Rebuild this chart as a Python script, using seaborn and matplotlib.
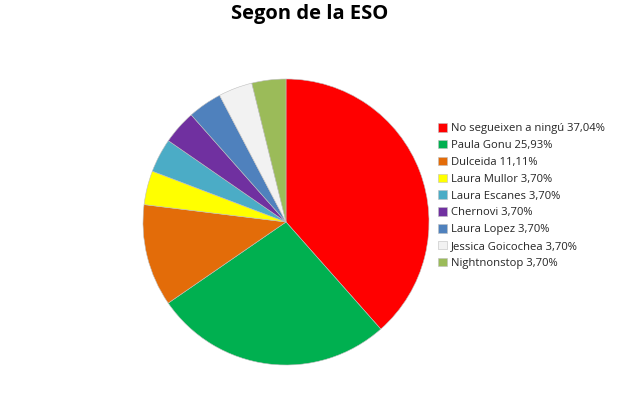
import matplotlib
matplotlib.use("Agg")
import matplotlib.pyplot as plt
import seaborn as sns
from matplotlib.patches import Patch

sns.set_theme(style="white")
plt.rcParams['font.family'] = ['Open Sans', 'DejaVu Sans']

labels = ["No segueixen a ningú", "Paula Gonu", "Dulceida", "Laura Mullor",
          "Laura Escanes", "Chernovi", "Laura Lopez", "Jessica Goicochea", "Nightnonstop"]
values = [37.04, 25.93, 11.11, 3.70, 3.70, 3.70, 3.70, 3.70, 3.70]
pct_labels = ["37,04%", "25,93%", "11,11%", "3,70%", "3,70%", "3,70%", "3,70%", "3,70%", "3,70%"]
colors = ["#FF0000", "#00B050", "#E36C09", "#FFFF00", "#4BACC6",
          "#7030A0", "#4F81BD", "#F2F2F2", "#9BBB59"]

W, H = 620, 394
fig = plt.figure(figsize=(W / 100, H / 100), dpi=100)
cx, cy, r = 286, 222, 143
ax = fig.add_axes([(cx - r) / W, (H - cy - r) / H, 2 * r / W, 2 * r / H])
ax.pie(values, colors=colors, startangle=90, counterclock=False,
       wedgeprops=dict(edgecolor="#BFBFBF", linewidth=0.4), radius=1.0)
ax.set_xlim(-1, 1)
ax.set_ylim(-1, 1)
ax.set_aspect("equal")
ax.axis("off")

fig.text(310 / W, 1 - 14 / H, "Segon de la ESO", ha="center", va="center",
         fontsize=14.5, fontweight="bold", color="black")

handles = [Patch(facecolor=c, edgecolor="#BFBFBF", linewidth=0.4) for c in colors]
leg_labels = [f"{l} {p}" for l, p in zip(labels, pct_labels)]
fig.legend(handles, leg_labels, loc="upper left",
           bbox_to_anchor=(438 / W, 1 - 123 / H), frameon=False,
           fontsize=8.1, handlelength=0.8, handleheight=0.8, handletextpad=0.35,
           labelspacing=0.5, borderaxespad=0, borderpad=0)

fig.savefig("out.png", dpi=100)
